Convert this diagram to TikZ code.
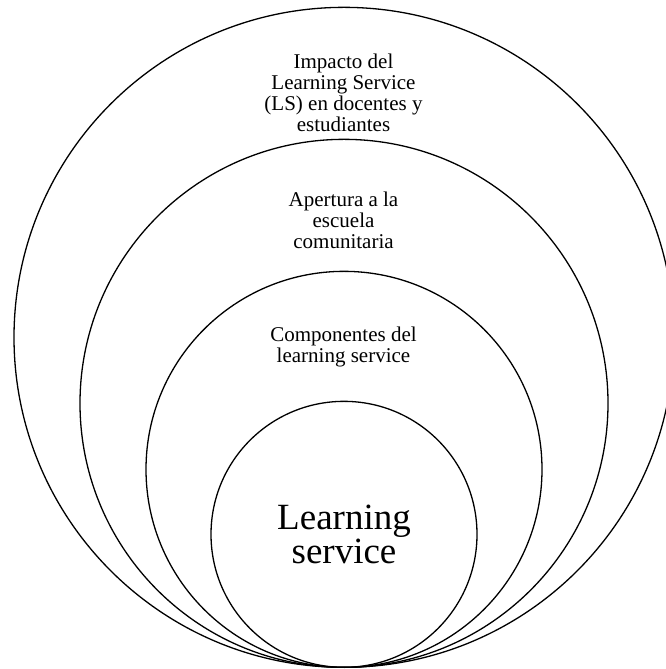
\documentclass[tikz,border=0pt]{standalone}
\usepackage{fontspec}
\setmainfont{Liberation Serif}
\usetikzlibrary{positioning}

\tikzset{
    ring/.style={draw, circle, line width=1.3pt, inner sep=0pt, anchor=south},
    ringlabel/.style={align=center, font=\fontsize{21}{21}\selectfont}
}

\begin{document}
\begin{tikzpicture}[x=1pt, y=1pt]
    \useasboundingbox (0,0) rectangle (665,669);
    \coordinate (base) at (344,1);

    % Rings, all touching at the bottom
    \node[ring, minimum size=660pt] (impact) at (base) {};
    \node[ring, minimum size=528pt] (opening) at (base) {};
    \node[ring, minimum size=396pt] (parts) at (base) {};
    \node[ring, minimum size=266pt, align=center,
          font=\fontsize{37}{34}\selectfont] (core) at (base) {Learning\\service};

    % Labels
    \node[ringlabel] (impacttext) at (343.5,576) {Impacto del\\Learning Service\\(LS) en docentes y\\estudiantes};
    \node[ringlabel] (openingtext) at (343.5,449) {Apertura a la\\escuela\\comunitaria};
    \node[ringlabel] (partstext) at (343.5,322) {Componentes del\\learning service};
\end{tikzpicture}
\end{document}
